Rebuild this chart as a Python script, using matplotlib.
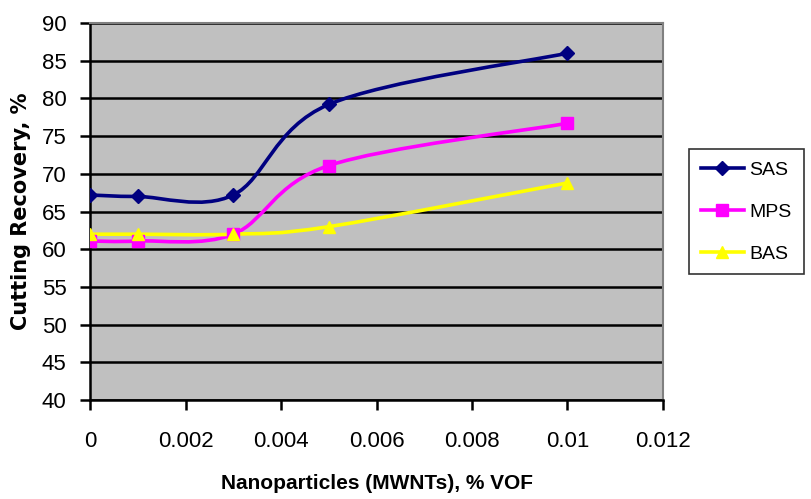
import numpy as np
import matplotlib
matplotlib.use('Agg')
import matplotlib.pyplot as plt
from matplotlib.path import Path
from matplotlib.patches import PathPatch
from matplotlib.lines import Line2D

plt.rcParams['font.family'] = ['Liberation Sans Narrow', 'Liberation Sans', 'DejaVu Sans']

# nanoparticle concentration (% VOF)
conc = [0, 0.001, 0.003, 0.005, 0.01]
sas = [67.2, 67.0, 67.2, 79.2, 86.0]
mps = [61.1, 61.1, 62.0, 71.1, 76.7]
bas = [62.0, 62.0, 62.0, 63.0, 68.8]

names = ['SAS', 'MPS', 'BAS']
colors = ['#000080', '#FF00FF', '#FFFF00']
markers = ['D', 's', '^']


def smooth_path(x, y):
    # bezier curve through the points, excel style smoothing
    pts = np.column_stack([x, y]).astype(float)
    n = len(pts)
    verts = [pts[0]]
    codes = [Path.MOVETO]
    for i in range(n - 1):
        p0 = pts[i - 1] if i > 0 else pts[i]
        p1 = pts[i]
        p2 = pts[i + 1]
        p3 = pts[i + 2] if i + 2 < n else pts[i + 1]
        c1 = p1 + (p2 - p0) / 6.0
        c2 = p2 - (p3 - p1) / 6.0
        verts += [c1, c2, p2]
        codes += [Path.CURVE4] * 3
    return Path(verts, codes)


fig = plt.figure(figsize=(8.11, 4.99), dpi=100)
ax = fig.add_axes([0.111, 0.198, 0.7065, 0.756])
ax.set_facecolor('#C0C0C0')

for vals, c, m in zip([sas, mps, bas], colors, markers):
    ax.add_patch(PathPatch(smooth_path(conc, vals), fill=False, edgecolor=c, lw=2.6, zorder=3))
    ax.plot(conc, vals, linestyle='none', marker=m, color=c, markersize=8 if m != 'D' else 7, zorder=4)

ax.set_xlim(0, 0.012)
ax.set_ylim(40, 90)
ax.set_xticks([0, 0.002, 0.004, 0.006, 0.008, 0.01, 0.012])
ax.set_xticklabels(['0', '0.002', '0.004', '0.006', '0.008', '0.01', '0.012'])
ax.set_yticks(range(40, 95, 5))
ax.yaxis.grid(True, color='black', lw=1.8)
ax.set_axisbelow(True)

for s in ['top', 'right']:
    ax.spines[s].set_color('#808080')
    ax.spines[s].set_linewidth(1.5)
for s in ['left', 'bottom']:
    ax.spines[s].set_color('black')
    ax.spines[s].set_linewidth(1.8)
ax.tick_params(axis='both', direction='out', length=7, width=1.8, labelsize=16)
ax.tick_params(axis='x', pad=15)
ax.tick_params(axis='y', pad=10)

ax.set_xlabel('Nanoparticles (MWNTs), % VOF', fontsize=15, fontweight='bold', va='center')
ax.xaxis.set_label_coords(0.5, -0.22)
ax.set_ylabel('Cutting Recovery, %', fontsize=15, fontweight='bold', family='DejaVu Sans', labelpad=8)

handles = [Line2D([], [], color=c, marker=m, lw=2.6, markersize=8 if m != 'D' else 7)
           for c, m in zip(colors, markers)]
leg = fig.legend(handles, names, loc='upper left', bbox_to_anchor=(0.838, 0.72),
                 fontsize=14, frameon=True, fancybox=False, edgecolor='black',
                 handlelength=2.2, borderpad=0.6, labelspacing=1.25, handletextpad=0.3)
leg.get_frame().set_linewidth(1.2)

fig.savefig('out.png', dpi=100)
